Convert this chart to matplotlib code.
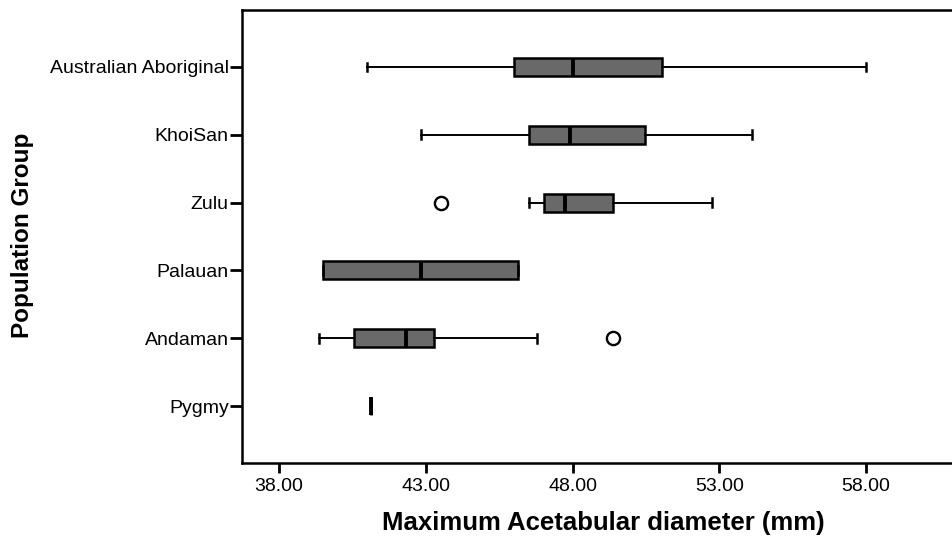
import numpy as np
import matplotlib.pyplot as plt

plt.rcParams['font.family'] = ['Liberation Sans', 'DejaVu Sans']

# population groups, top to bottom
groups = ['Australian Aboriginal', 'KhoiSan', 'Zulu', 'Palauan', 'Andaman', 'Pygmy']
whis_lo = [41.0, 42.83, 46.53, 39.50, 39.37, 41.12]
q1 = [46.0, 46.51, 47.04, 39.50, 40.56, 41.12]
median = [48.02, 47.90, 47.75, 42.82, 42.32, 41.12]
q3 = [51.03, 50.47, 49.37, 46.15, 43.28, 41.12]
whis_hi = [58.0, 54.12, 52.75, 46.15, 46.78, 41.12]
outliers = [[], [], [43.52], [], [49.36], []]

stats = []
for i, name in enumerate(groups):
    stats.append(dict(label=name, whislo=whis_lo[i], q1=q1[i], med=median[i],
                      q3=q3[i], whishi=whis_hi[i], fliers=outliers[i]))

positions = np.arange(len(groups))[::-1]

fig = plt.figure(figsize=(9.53, 5.41), dpi=100)
ax = fig.add_axes([0.254, 0.1442, 0.746, 0.8373])

ax.bxp(stats, positions=positions, orientation='horizontal', widths=0.265,
       capwidths=0.13, patch_artist=True,
       boxprops=dict(facecolor='#696969', edgecolor='black', linewidth=1.8),
       medianprops=dict(color='black', linewidth=2.8),
       whiskerprops=dict(color='black', linewidth=1.4),
       capprops=dict(color='black', linewidth=1.8),
       flierprops=dict(marker='o', markerfacecolor='white', markeredgecolor='black',
                       markersize=9.5, markeredgewidth=1.7))

ax.set_xlim(36.74, 60.96)
ax.set_ylim(-0.84, 5.84)
ax.set_xticks([38, 43, 48, 53, 58])
ax.set_xticklabels(['38.00', '43.00', '48.00', '53.00', '58.00'])
ax.set_yticks(positions)
ax.set_yticklabels(groups)

ax.spines['right'].set_visible(False)
for s in ['left', 'top', 'bottom']:
    ax.spines[s].set_linewidth(1.8)
ax.tick_params(axis='both', direction='out', width=2, labelsize=14)
ax.tick_params(axis='x', length=7.5, pad=3)
ax.tick_params(axis='y', length=8.5, pad=1)

ax.set_xlabel('Maximum Acetabular diameter (mm)', fontsize=18.5, fontweight='bold')
ax.xaxis.set_label_coords(0.508, -0.1325)
ax.xaxis.label.set_va('center')
ax.set_ylabel('Population Group', fontsize=17.5, fontweight='bold')
ax.yaxis.set_label_coords(-0.309, 0.503)
ax.yaxis.label.set_va('center')

fig.savefig('out.png', dpi=100)
